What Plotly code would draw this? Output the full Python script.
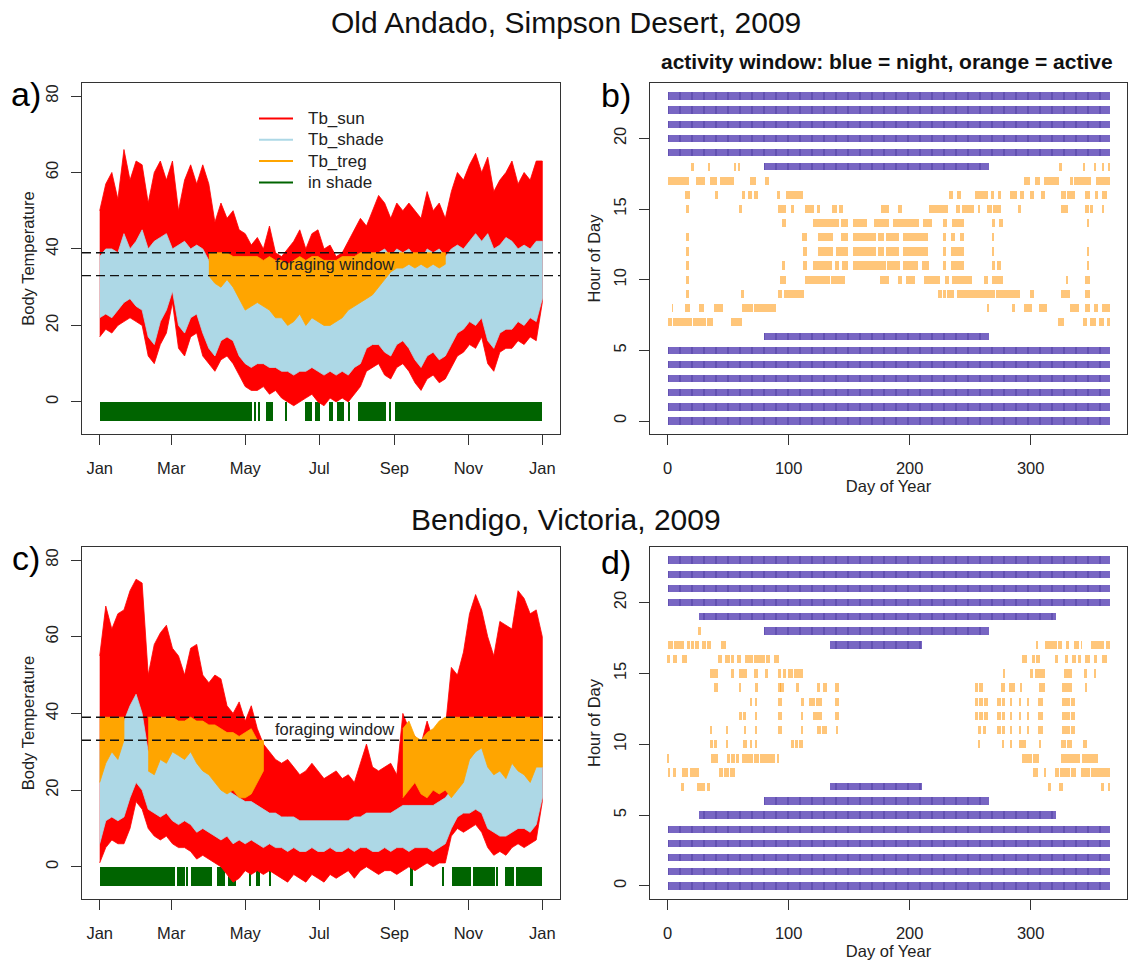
import plotly.graph_objects as go

# ---------------------------------------------------------------
# Body temperature envelopes, sampled every 5 days (day of year)
# ---------------------------------------------------------------
sample_day = list(range(0, 366, 5))

# Old Andado, Simpson Desert
sun_max_a = [50, 57, 60, 53, 66, 58, 63, 62, 52, 60,
             63, 58, 63, 50, 58, 62, 57, 62, 57, 47,
             52, 48, 50, 45, 44, 41, 43, 40, 46, 39,
             38, 40, 42, 45, 40, 44, 45, 40, 41, 38,
             39, 42, 45, 48, 46, 50, 54, 52, 48, 52,
             50, 52, 50, 48, 55, 50, 52, 48, 55, 60,
             58, 62, 65, 60, 64, 55, 58, 60, 63, 57,
             60, 58, 63, 63]
sun_min_a = [17, 19, 18, 20, 21, 22, 21, 20, 12, 10,
             15, 18, 26, 14, 12, 17, 18, 12, 10, 8,
             11, 12, 10, 7, 4, 3, 3, 4, 2, 3,
             1, 0, -1, 0, 1, 2, 0, -1, 1, 0,
             1, 0, 2, 4, 8, 9, 10, 7, 6, 9,
             10, 8, 5, 3, 6, 7, 5, 6, 9, 12,
             13, 15, 14, 17, 10, 8, 13, 14, 14, 16,
             15, 17, 16, 26]
shade_max_a = [38, 40, 40, 39, 44, 40, 42, 45, 40, 42,
               43, 44, 40, 41, 42, 40, 41, 40, 37, 33,
               35, 34, 33, 32, 30, 29, 30, 28, 30, 27,
               26, 27, 28, 30, 28, 30, 31, 28, 29, 28,
               30, 31, 33, 34, 35, 37, 39, 40, 38, 40,
               39, 40, 38, 37, 40, 39, 40, 38, 40, 41,
               40, 42, 44, 42, 44, 40, 41, 43, 42, 40,
               41, 40, 42, 42]
shade_min_a = [22, 23, 22, 24, 26, 27, 25, 24, 17, 15,
               21, 24, 29, 20, 18, 22, 23, 18, 14, 12,
               16, 17, 16, 12, 10, 9, 10, 10, 9, 9,
               8, 8, 7, 8, 8, 9, 8, 7, 8, 7,
               8, 7, 9, 10, 14, 15, 15, 13, 12, 15,
               16, 14, 11, 9, 12, 13, 11, 12, 15, 18,
               19, 21, 20, 22, 16, 14, 18, 19, 19, 21,
               20, 22, 21, 27]
treg_lo_a = [None, None, None, None, None, None, None, None, None, None,
             None, None, None, None, None, None, None, None, 33, 31,
             30, 32, 30, 27, 24, 25, 26, 25, 24, 22,
             22, 20, 21, 23, 20, 22, 21, 20, 20, 21,
             22, 24, 25, 26, 27, 28, 30, 32, 34, 35,
             35, 36, 35, 36, 35, 36, 35, 36, None, None,
             None, None, None, None, None, None, None, None, None, None,
             None, None, None, None]
treg_hi_a = [None, None, None, None, None, None, None, None, None, None,
             None, None, None, None, None, None, None, None, 39, 39,
             39, 39, 38, 38, 38, 38, 38, 37, 38, 37,
             37, 36, 37, 38, 37, 38, 38, 37, 37, 37,
             38, 38, 38, 39, 39, 39, 39, 39, 39, 39,
             39, 39, 39, 39, 39, 39, 39, 39, None, None,
             None, None, None, None, None, None, None, None, None, None,
             None, None, None, None]
shade_start_a = [0, 127.3, 130.9, 137.2, 152.9, 169.4, 177.2, 189.2, 196.1, 204.8, 213.2, 238.4, 243.2]
shade_end_a = [125.2, 128.8, 132.1, 143.2, 154.4, 174.8, 181.4, 192.5, 201.5, 206.0, 236.0, 240.5, 365]

# Bendigo, Victoria
sun_max_c = [55, 68, 62, 66, 67, 72, 75, 74, 50, 58,
             61, 63, 57, 55, 50, 57, 58, 50, 48, 50,
             49, 42, 40, 43, 38, 42, 36, 32, 30, 28,
             27, 28, 26, 24, 25, 27, 25, 23, 24, 25,
             23, 24, 22, 27, 32, 26, 25, 26, 27, 24,
             40, 36, 34, 32, 38, 33, 34, 36, 52, 50,
             56, 66, 71, 67, 60, 55, 64, 63, 62, 72,
             70, 66, 67, 60]
sun_min_c = [1, 5, 7, 6, 6, 10, 17, 15, 10, 8,
             7, 8, 6, 5, 5, 4, 2, 3, 2, 1,
             0, -2, -4, -3, -1, -2, -1, -2, -1, -2,
             -3, -4, -2, -3, -4, -2, -3, -4, -2, -3,
             -2, -1, -3, -1, 0, -1, -2, -1, -1, -2,
             -1, 0, -1, 0, 1, 0, 1, 1, 8, 10,
             9, 10, 11, 9, 5, 3, 4, 3, 5, 6,
             5, 6, 7, 17]
shade_max_c = [30, 33, 35, 34, 38, 42, 45, 40, 30, 32,
               34, 33, 30, 31, 33, 32, 30, 28, 26, 24,
               22, 20, 19, 18, 17, 17, 16, 15, 14, 14,
               13, 13, 13, 12, 12, 12, 12, 12, 12, 12,
               12, 12, 13, 13, 14, 14, 14, 14, 14, 15,
               16, 16, 16, 16, 16, 16, 17, 18, 20, 24,
               25, 28, 30, 35, 32, 30, 32, 30, 33, 34,
               32, 30, 33, 33]
shade_min_c = [6, 12, 13, 12, 13, 18, 22, 20, 15, 14,
               13, 14, 12, 11, 12, 11, 9, 10, 9, 8,
               7, 8, 6, 7, 6, 7, 6, 5, 6, 5,
               5, 4, 5, 4, 4, 5, 4, 4, 5, 4,
               4, 5, 4, 5, 5, 4, 4, 5, 4, 5,
               5, 4, 5, 5, 5, 4, 5, 6, 10, 13,
               14, 14, 15, 14, 10, 9, 8, 8, 9, 10,
               10, 9, 11, 18]
treg_lo_c = [22, 27, 30, 28, 33, None, None, None, 25, 24,
             28, 27, 30, 29, 28, 30, 27, 25, 24, 22,
             20, 19, 20, 18, 18, 19, 22, 25, None, None,
             None, None, None, None, None, None, None, None, None, None,
             None, None, None, None, None, None, None, None, None, None,
             18, 20, 22, 19, 18, 20, 19, 20, 18, 20,
             22, 28, 30, 31, 26, 24, 25, 23, 27, 25,
             24, 22, 26, 26]
treg_hi_c = [39, 39, 39, 39, 39, None, None, None, 39, 39,
             39, 39, 39, 38, 38, 39, 38, 38, 37, 37,
             36, 35, 35, 34, 35, 36, 33, 33, None, None,
             None, None, None, None, None, None, None, None, None, None,
             None, None, None, None, None, None, None, None, None, None,
             36, 38, 34, 33, 35, 36, 38, 39, 39, 39,
             39, 39, 39, 39, 39, 39, 39, 39, 39, 39,
             39, 39, 39, 39]
shade_start_c = [0, 63.4, 71.8, 75.4, 96.7, 105.4, 123.7, 129.1, 140.0, 255.9, 282.9, 290.7, 307.5, 327.6, 334.5, 343.5]
shade_end_c = [62.2, 70.3, 72.7, 92.2, 103.3, 112.3, 124.9, 132.1, 141.1, 258.6, 284.1, 306.6, 325.8, 328.5, 341.4, 365]

# foraging window limits (deg C)
window_low = 33
window_high = 39

month_tick_day = [0, 59, 120, 181, 243, 304, 365]
month_tick_text = ["Jan", "Mar", "May", "Jul", "Sep", "Nov", "Jan"]

legend_names = ["Tb_sun", "Tb_shade", "Tb_treg", "in shade"]

# ---------------------------------------------------------------
# Activity windows: night hours (first day, last day) and active spells
# ---------------------------------------------------------------
night_hour_b = [0, 1, 2, 3, 4, 5, 6, 18, 19, 20, 21, 22, 23]
night_first_b = [1, 1, 1, 1, 1, 1, 80, 80, 1, 1, 1, 1, 1]
night_last_b = [365, 365, 365, 365, 365, 365, 265, 265, 365, 365, 365, 365, 365]

night_hour_d = [0, 1, 2, 3, 4, 5, 6, 7, 17, 18, 19, 20, 21, 22, 23]
night_first_d = [1, 1, 1, 1, 1, 27, 80, 135, 135, 80, 27, 1, 1, 1, 1]
night_last_d = [365, 365, 365, 365, 365, 320, 265, 209, 209, 265, 320, 365, 365, 365, 365]

# active spells (first day, last day) for each hour, Old Andado
b_h07 = [(1, 3), (5, 9), (11, 19), (22, 25), (27, 31), (33, 37), (53, 61), (323, 327), (344, 346), (350, 353), (357, 360), (364, 365)]
b_h08 = [(4, 4), (15, 18), (27, 29), (39, 45), (62, 70), (72, 89), (265, 265), (285, 286), (295, 300), (308, 313), (333, 339), (346, 348), (353, 355), (360, 365)]
b_h09 = [(16, 17), (61, 62), (92, 94), (97, 112), (224, 226), (228, 229), (232, 236), (240, 243), (245, 252), (254, 270), (272, 290), (300, 302), (326, 332), (346, 348)]
b_h10 = [(16, 17), (94, 97), (114, 133), (136, 146), (176, 182), (191, 193), (198, 204), (213, 224), (230, 232), (236, 251), (262, 264), (269, 276), (330, 330), (346, 348)]
b_h11 = [(16, 17), (95, 96), (113, 114), (121, 128), (130, 135), (139, 141), (145, 148), (154, 180), (182, 191), (195, 206), (211, 215), (228, 229), (235, 244), (269, 270), (273, 275), (347, 347)]
b_h12 = [(16, 17), (113, 114), (125, 136), (140, 148), (154, 171), (175, 178), (181, 190), (195, 214), (228, 229), (235, 244), (269, 269), (347, 347)]
b_h13 = [(16, 17), (112, 114), (125, 136), (144, 148), (154, 171), (175, 178), (181, 190), (195, 214), (228, 229), (235, 237), (242, 244), (269, 269)]
b_h14 = [(95, 97), (121, 128), (130, 141), (144, 148), (154, 164), (171, 182), (187, 207), (212, 218), (228, 230), (236, 244), (269, 270), (275, 276), (347, 347)]
b_h15 = [(16, 17), (60, 61), (92, 97), (103, 104), (114, 120), (124, 125), (137, 139), (142, 144), (177, 182), (191, 193), (217, 224), (226, 231), (239, 241), (244, 252), (257, 257), (265, 267), (270, 275), (290, 291), (326, 330), (346, 347), (350, 351), (360, 360)]
b_h16 = [(15, 18), (40, 41), (62, 63), (67, 69), (72, 74), (91, 92), (99, 111), (233, 235), (240, 242), (255, 264), (268, 269), (274, 275), (284, 288), (292, 294), (300, 302), (309, 311), (326, 328), (331, 336), (346, 348), (354, 355), (360, 362)]
b_h17 = [(1, 15), (17, 17), (24, 30), (36, 40), (44, 54), (69, 72), (81, 83), (295, 299), (304, 307), (312, 323), (333, 334), (337, 349), (355, 365)]
b_h18 = [(20, 21), (34, 34), (56, 56), (59, 59), (324, 325), (344, 344), (353, 353), (360, 360), (365, 365)]

# active spells (first day, last day) for each hour, Bendigo
d_h07 = [(12, 13), (25, 30), (33, 34), (315, 316), (324, 326), (359, 360), (365, 365)]
d_h08 = [(1, 1), (5, 6), (13, 16), (19, 25), (43, 45), (47, 50), (52, 55), (303, 305), (312, 312), (321, 323), (325, 328), (330, 332), (334, 337), (342, 344), (346, 348), (351, 353), (355, 358), (360, 365)]
d_h09 = [(0, 0), (37, 38), (40, 41), (50, 51), (53, 55), (57, 58), (62, 63), (65, 70), (72, 75), (77, 81), (83, 88), (91, 91), (294, 296), (298, 300), (303, 306), (326, 329), (331, 335), (337, 340), (343, 348), (350, 355)]
d_h10 = [(36, 37), (39, 40), (49, 49), (63, 65), (69, 69), (73, 73), (103, 104), (106, 107), (109, 111), (257, 257), (277, 277), (284, 284), (291, 295), (308, 308), (326, 328), (331, 333), (344, 346)]
d_h11 = [(36, 36), (49, 49), (64, 64), (73, 73), (92, 94), (111, 111), (124, 126), (128, 131), (140, 140), (257, 258), (261, 262), (273, 275), (277, 278), (284, 284), (291, 291), (298, 298), (307, 309), (327, 328), (330, 332), (334, 336)]
d_h12 = [(60, 61), (63, 64), (73, 73), (92, 94), (111, 111), (121, 127), (139, 141), (255, 256), (258, 260), (262, 264), (273, 275), (277, 278), (284, 284), (291, 291), (298, 298), (307, 309), (327, 328), (330, 332), (334, 336)]
d_h13 = [(69, 69), (73, 73), (92, 94), (111, 112), (118, 121), (123, 127), (139, 141), (255, 256), (258, 260), (262, 264), (273, 275), (277, 278), (284, 284), (291, 291), (298, 298), (307, 309), (327, 328), (330, 332), (334, 336)]
d_h14 = [(39, 41), (60, 60), (73, 74), (92, 93), (94, 95), (107, 108), (124, 125), (129, 131), (139, 141), (255, 256), (258, 260), (276, 278), (283, 286), (292, 292), (308, 311), (327, 330), (332, 333), (346, 346)]
d_h15 = [(36, 41), (53, 54), (60, 62), (64, 65), (72, 74), (81, 82), (92, 93), (96, 97), (100, 103), (105, 111), (278, 278), (300, 301), (304, 306), (308, 311), (328, 330), (332, 333), (345, 346), (353, 353)]
d_h16 = [(0, 1), (5, 7), (13, 15), (42, 44), (48, 51), (53, 54), (58, 60), (65, 66), (68, 70), (72, 72), (74, 80), (82, 84), (89, 91), (294, 296), (302, 303), (305, 307), (321, 322), (329, 330), (335, 337), (340, 341), (346, 348), (353, 354), (360, 362)]
d_h17 = [(1, 4), (6, 9), (11, 13), (17, 18), (20, 21), (23, 25), (29, 31), (33, 35), (45, 47), (305, 305), (313, 321), (323, 325), (330, 331), (337, 339), (342, 342), (351, 354), (356, 360), (363, 365)]
d_h18 = [(26, 27)]

active_rows_b = [(7, b_h07), (8, b_h08), (9, b_h09), (10, b_h10), (11, b_h11), (12, b_h12),
                 (13, b_h13), (14, b_h14), (15, b_h15), (16, b_h16), (17, b_h17), (18, b_h18)]
active_rows_d = [(7, d_h07), (8, d_h08), (9, d_h09), (10, d_h10), (11, d_h11), (12, d_h12),
                 (13, d_h13), (14, d_h14), (15, d_h15), (16, d_h16), (17, d_h17), (18, d_h18)]

# ---------------------------------------------------------------
# styling
# ---------------------------------------------------------------
FONT = "Liberation Sans, Arial, sans-serif"
RED = "#FF0000"
LIGHTBLUE = "#ADD8E6"
ORANGE = "#FFA500"
DARKGREEN = "#006400"
NIGHT = "#7866C3"
NIGHT_EDGE = "#4A3A9E"
ACTIVE = "rgba(255,145,0,0.52)"
HALF_DAY = 0.8   # half width of one day's mark in the activity panels

W, H = 1131, 970


def px_x(p):
    return p / W


def px_y(p):
    return 1 - p / H


def band_polygons(x, lo, hi):
    """Closed outlines of the stretches where both bounds exist."""
    xs, ys, run = [], [], []

    def flush():
        if run:
            xs.extend([p[0] for p in run] + [p[0] for p in reversed(run)] + [None])
            ys.extend([p[2] for p in run] + [p[1] for p in reversed(run)] + [None])
            run.clear()

    for xi, l, h in zip(x, lo, hi):
        if l is None or h is None:
            flush()
        else:
            run.append((xi, l, h))
    flush()
    return xs, ys


fig = go.Figure()


def add_temperature_panel(xa, ya, sun_max, sun_min, shade_max, shade_min, treg_lo, treg_hi,
                          shade_start, shade_end):
    for lo, hi, col in [(sun_min, sun_max, RED), (shade_min, shade_max, LIGHTBLUE),
                        (treg_lo, treg_hi, ORANGE)]:
        bx, by = band_polygons(sample_day, lo, hi)
        fig.add_trace(go.Scatter(x=bx, y=by, mode="lines", fill="toself", fillcolor=col,
                                 line=dict(color=col, width=0.8), hoverinfo="skip",
                                 showlegend=False, xaxis=xa, yaxis=ya))
    centres = [(s + e) / 2 for s, e in zip(shade_start, shade_end)]
    widths = [e - s for s, e in zip(shade_start, shade_end)]
    fig.add_trace(go.Bar(x=centres, y=[5] * len(centres), base=-5, width=widths,
                         marker=dict(color=DARKGREEN, line=dict(width=0)),
                         showlegend=False, hoverinfo="skip", xaxis=xa, yaxis=ya))


def add_activity_panel(xa, ya, n_hour, n_first, n_last, active_rows):
    fig.add_trace(go.Bar(
        orientation="h", y=n_hour,
        base=[f - HALF_DAY for f in n_first],
        x=[l - f + 2 * HALF_DAY for f, l in zip(n_first, n_last)],
        width=0.52,
        marker=dict(color=NIGHT, line=dict(width=0),
                    pattern=dict(shape="|", size=12, solidity=0.16,
                                 fgcolor=NIGHT_EDGE, fillmode="overlay")),
        showlegend=False, hoverinfo="skip", xaxis=xa, yaxis=ya))
    hrs, base, length = [], [], []
    for hour, spells in active_rows:
        for s, e in spells:
            hrs.append(hour)
            base.append(s - HALF_DAY)
            length.append(e - s + 2 * HALF_DAY)
    fig.add_trace(go.Bar(orientation="h", y=hrs, base=base, x=length, width=0.58,
                         marker=dict(color=ACTIVE, line=dict(width=0)),
                         showlegend=False, hoverinfo="skip", xaxis=xa, yaxis=ya))


add_temperature_panel("x", "y", sun_max_a, sun_min_a, shade_max_a, shade_min_a,
                      treg_lo_a, treg_hi_a, shade_start_a, shade_end_a)
add_activity_panel("x2", "y2", night_hour_b, night_first_b, night_last_b, active_rows_b)
add_temperature_panel("x3", "y3", sun_max_c, sun_min_c, shade_max_c, shade_min_c,
                      treg_lo_c, treg_hi_c, shade_start_c, shade_end_c)
add_activity_panel("x4", "y4", night_hour_d, night_first_d, night_last_d, active_rows_d)

# foraging window lines and label
for xr, yr in [("x", "y"), ("x3", "y3")]:
    for level in (window_low, window_high):
        fig.add_shape(type="line", xref=f"{xr} domain", yref=yr, x0=0, x1=1, y0=level, y1=level,
                      line=dict(color="#111111", width=1.3, dash="9px,5px"), layer="above")
    fig.add_annotation(x=194, y=(window_low + window_high) / 2, xref=xr, yref=yr,
                       text="foraging window", showarrow=False,
                       font=dict(family=FONT, size=16.5, color="#222222"))

# key for panel a: short coloured lines with their names
key_colours = [RED, LIGHTBLUE, ORANGE, DARKGREEN]
for i, (name, col) in enumerate(zip(legend_names, key_colours)):
    row_y = px_y(118.5 + 21.3 * i)
    fig.add_shape(type="line", xref="paper", yref="paper", x0=px_x(259), x1=px_x(293),
                  y0=row_y, y1=row_y, line=dict(color=col, width=2))
    fig.add_annotation(x=px_x(306), y=row_y, xref="paper", yref="paper", text=name,
                       showarrow=False, xanchor="left", yanchor="middle",
                       font=dict(family=FONT, size=17, color="#222222"))

# axes
left_x = [px_x(82), px_x(560)]
right_x = [px_x(650), px_x(1127)]
top_y = [px_y(434), px_y(83)]
bot_y = [px_y(899), px_y(547)]

tick_font = dict(family=FONT, size=16.5, color="#222222")
title_font = dict(family=FONT, size=16.5, color="#222222")
common = dict(showline=True, mirror=True, linecolor="#333333", linewidth=1.2,
              ticks="outside", ticklen=10, tickwidth=1.2, tickcolor="#333333",
              showgrid=False, zeroline=False, tickfont=tick_font, fixedrange=True)

day_range = [-14.6, 379.6]
temp_range = [-8.4, 83.4]
hour_range = [-0.92, 23.92]

fig.update_layout(
    xaxis=dict(domain=left_x, anchor="y", range=day_range, tickmode="array",
               tickvals=month_tick_day, ticktext=month_tick_text, ticklabelstandoff=9, **common),
    yaxis=dict(domain=top_y, anchor="x", range=temp_range, tickvals=[0, 20, 40, 60, 80],
               tickangle=-90, ticklabelstandoff=6,
               title=dict(text="Body Temperature", font=title_font, standoff=4), **common),
    xaxis2=dict(domain=right_x, anchor="y2", range=day_range, tickvals=[0, 100, 200, 300],
                ticklabelstandoff=9,
                title=dict(text="Day of Year", font=title_font, standoff=4), **common),
    yaxis2=dict(domain=top_y, anchor="x2", range=hour_range, tickvals=[0, 5, 10, 15, 20],
                tickangle=-90, ticklabelstandoff=6,
                title=dict(text="Hour of Day", font=title_font, standoff=6), **common),
    xaxis3=dict(domain=left_x, anchor="y3", range=day_range, tickmode="array",
                tickvals=month_tick_day, ticktext=month_tick_text, ticklabelstandoff=9, **common),
    yaxis3=dict(domain=bot_y, anchor="x3", range=temp_range, tickvals=[0, 20, 40, 60, 80],
                tickangle=-90, ticklabelstandoff=6,
                title=dict(text="Body Temperature", font=title_font, standoff=4), **common),
    xaxis4=dict(domain=right_x, anchor="y4", range=day_range, tickvals=[0, 100, 200, 300],
                ticklabelstandoff=9,
                title=dict(text="Day of Year", font=title_font, standoff=4), **common),
    yaxis4=dict(domain=bot_y, anchor="x4", range=hour_range, tickvals=[0, 5, 10, 15, 20],
                tickangle=-90, ticklabelstandoff=6,
                title=dict(text="Hour of Day", font=title_font, standoff=6), **common),
    barmode="overlay",
    bargap=0,
    width=W, height=H,
    margin=dict(l=0, r=0, t=0, b=0),
    paper_bgcolor="white", plot_bgcolor="white",
    showlegend=False,
)

# titles and panel letters
texts = [
    ("Old Andado, Simpson Desert, 2009", 565.5, 22, 30, False),
    ("activity window: blue = night, orange = active", 887, 62, 21, True),
    ("Bendigo, Victoria, 2009", 565.5, 519, 30, False),
]
for txt, cx, cy, size, bold in texts:
    fig.add_annotation(x=px_x(cx), y=px_y(cy), xref="paper", yref="paper", showarrow=False,
                       text=f"<b>{txt}</b>" if bold else txt, xanchor="center", yanchor="middle",
                       font=dict(family=FONT, size=size, color="#111111"))
for letter, cx, cy in [("a)", 26, 94), ("b)", 616, 95), ("c)", 26, 558), ("d)", 616, 562)]:
    fig.add_annotation(x=px_x(cx), y=px_y(cy), xref="paper", yref="paper", showarrow=False,
                       text=letter, xanchor="center", yanchor="middle",
                       font=dict(family=FONT, size=34, color="#000000"))

fig.write_html("out.html")
